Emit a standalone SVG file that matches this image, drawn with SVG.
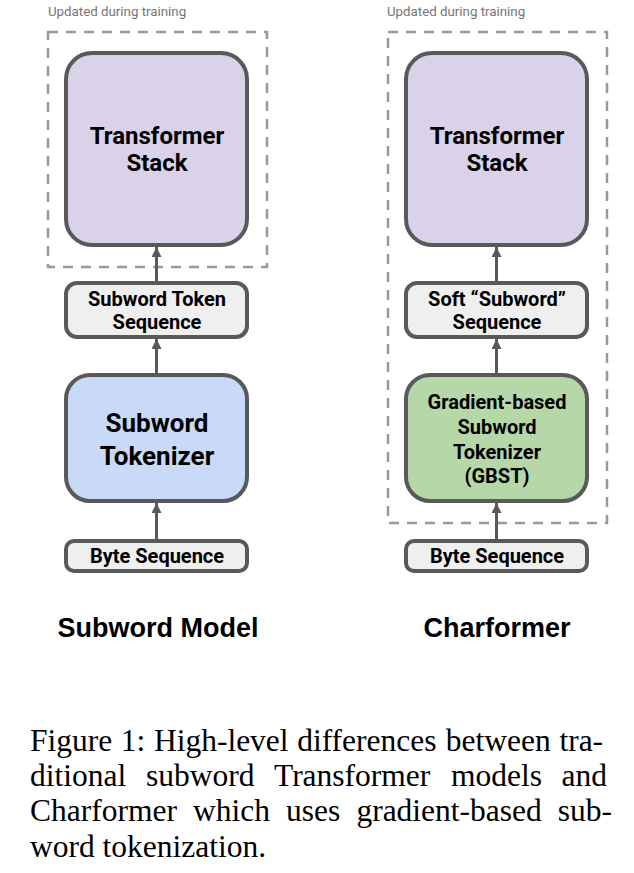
<svg xmlns="http://www.w3.org/2000/svg" width="634" height="873" viewBox="0 0 634 873">
<defs>
<style>
.dash{fill:none;stroke:#999999;stroke-width:2.5;stroke-dasharray:10 8}
.box{stroke:#595959;stroke-width:4}
.purple{fill:#d9d2e9}
.blue{fill:#c9daf8}
.green{fill:#b6d7a8}
.gray{fill:#efefef}
.lbl{font-family:Roboto,"Liberation Sans",sans-serif;font-weight:bold;fill:#000;text-anchor:middle}
.hdr{font-family:Roboto,"Liberation Sans",sans-serif;font-size:13.3px;fill:#757575}
.title{font-family:"Liberation Sans",Arial,sans-serif;font-weight:bold;font-size:27px;fill:#000;text-anchor:middle}
.cap{font-family:"Liberation Serif","Times New Roman",serif;font-size:31.5px;fill:#000}
.conn{stroke:#595959;stroke-width:3;fill:none;marker-end:url(#ah)}
</style>
<marker id="ah" viewBox="0 0 10 10" refX="10" refY="5" markerUnits="userSpaceOnUse" markerWidth="15" markerHeight="10" orient="auto">
<path d="M0,0 L10,5 L0,10 z" fill="#595959"/>
</marker>
</defs>

<g id="left-training-region">
<text class="hdr" x="48" y="16">Updated during training</text>
<rect class="dash" x="48" y="32" width="219" height="235"/>
</g>
<g id="right-training-region">
<text class="hdr" x="387" y="16">Updated during training</text>
<rect class="dash" x="388" y="32" width="219" height="491"/>
</g>

<g id="connectors">
<line class="conn" x1="156.5" y1="283" x2="156.5" y2="247"/>
<line class="conn" x1="156.5" y1="375" x2="156.5" y2="339"/>
<line class="conn" x1="156.5" y1="541" x2="156.5" y2="503"/>
<line class="conn" x1="496.5" y1="283" x2="496.5" y2="247"/>
<line class="conn" x1="496.5" y1="375" x2="496.5" y2="339"/>
<line class="conn" x1="496.5" y1="541" x2="496.5" y2="503"/>
</g>

<g id="left-transformer">
<rect class="box purple" x="66" y="53" width="181" height="192" rx="26"/>
<text class="lbl" x="157" y="144" font-size="24">Transformer</text>
<text class="lbl" x="157" y="171" font-size="24">Stack</text>
</g>
<g id="left-token-seq">
<rect class="box gray" x="66" y="283" width="181" height="54" rx="11"/>
<text class="lbl" x="157" y="306" font-size="20">Subword Token</text>
<text class="lbl" x="157" y="329" font-size="20">Sequence</text>
</g>
<g id="left-tokenizer">
<rect class="box blue" x="66" y="375" width="181" height="126" rx="24"/>
<text class="lbl" x="157" y="432" font-size="26">Subword</text>
<text class="lbl" x="157" y="465" font-size="26">Tokenizer</text>
</g>
<g id="left-byte-seq">
<rect class="box gray" x="66" y="541" width="181" height="30" rx="8"/>
<text class="lbl" x="157" y="563" font-size="20">Byte Sequence</text>
</g>

<g id="right-transformer">
<rect class="box purple" x="406" y="53" width="181" height="192" rx="26"/>
<text class="lbl" x="497" y="144" font-size="24">Transformer</text>
<text class="lbl" x="497" y="171" font-size="24">Stack</text>
</g>
<g id="right-soft-seq">
<rect class="box gray" x="406" y="283" width="181" height="54" rx="11"/>
<text class="lbl" x="497" y="306" font-size="20">Soft “Subword”</text>
<text class="lbl" x="497" y="329" font-size="20">Sequence</text>
</g>
<g id="right-gbst">
<rect class="box green" x="406" y="375" width="181" height="126" rx="24"/>
<text class="lbl" x="497" y="409" font-size="20">Gradient-based</text>
<text class="lbl" x="497" y="434" font-size="20">Subword</text>
<text class="lbl" x="497" y="459" font-size="20">Tokenizer</text>
<text class="lbl" x="497" y="483" font-size="20">(GBST)</text>
</g>
<g id="right-byte-seq">
<rect class="box gray" x="406" y="541" width="181" height="30" rx="8"/>
<text class="lbl" x="497" y="563" font-size="20">Byte Sequence</text>
</g>

<g id="titles">
<text class="title" x="158" y="637">Subword Model</text>
<text class="title" x="497" y="637">Charformer</text>
</g>

<g id="caption">
<text class="cap" y="751"><tspan x="30">Figure</tspan><tspan x="120.8">1:</tspan><tspan x="153.9">High-level</tspan><tspan x="297.2">differences</tspan><tspan x="445.8">between</tspan><tspan x="559.4">tra-</tspan></text>
<text class="cap" y="786"><tspan x="30">ditional</tspan><tspan x="145.9">subword</tspan><tspan x="274">Transformer</tspan><tspan x="451">models</tspan><tspan x="561.6">and</tspan></text>
<text class="cap" y="821"><tspan x="30">Charformer</tspan><tspan x="193">which</tspan><tspan x="286.1">uses</tspan><tspan x="356.4">gradient-based</tspan><tspan x="557.8">sub-</tspan></text>
<text class="cap" x="30" y="857">word tokenization.</text>
</g>
</svg>
